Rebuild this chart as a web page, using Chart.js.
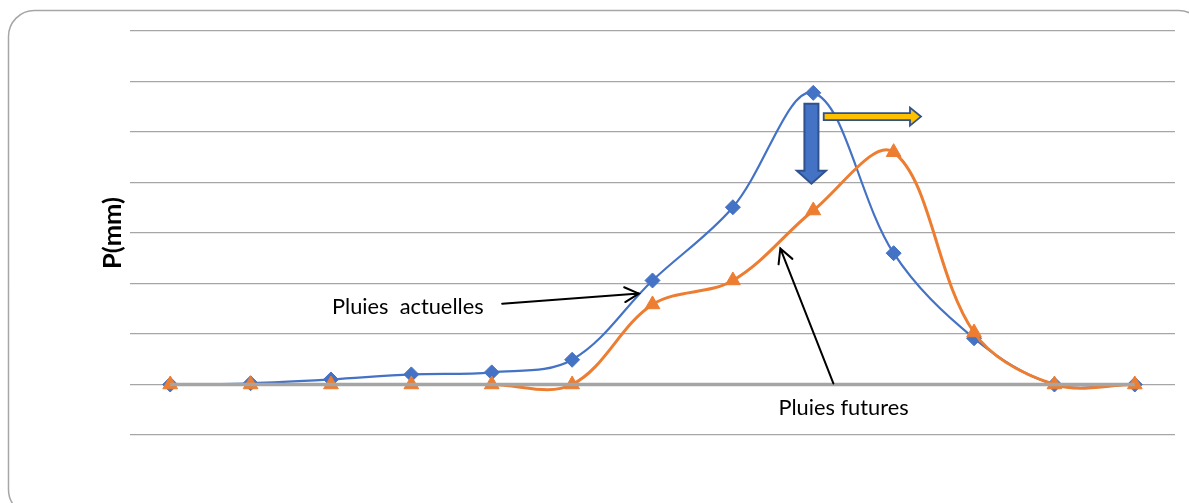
<!DOCTYPE html>
<html>
<head>
<meta charset="utf-8">
<script src="https://cdn.jsdelivr.net/npm/chart.js@4"></script>
<style>
  html, body { margin: 0; padding: 0; background: #ffffff; }
  #wrap { width: 1189px; height: 503px; }
</style>
</head>
<body>
<div id="wrap"><canvas id="c" width="1189" height="503"></canvas></div>
<script>
// Time steps along the horizontal axis (not labelled on the chart)
const categories = ['1', '2', '3', '4', '5', '6', '7', '8', '9', '10', '11', '12', '13'];

// Precipitation, mm
const pluiesActuelles = [0, 0.5, 2.0, 4.0, 4.8, 9.8, 41.2, 70.2, 115.5, 52.0, 18.3, 0, 0];
const pluiesFutures   = [0, 0, 0, 0, 0, 0, 31.7, 41.2, 68.9, 92.0, 20.6, 0, 0];
const baseline        = [0, 0, 0, 0, 0, 0, 0, 0, 0, 0, 0, 0, 0];

// Vertical scale
const yMin = -20;
const yMax = 140;
const yStep = 20;

const FONT = 'Lato, "Open Sans", "DejaVu Sans", sans-serif';

// Labels, pointers and shift arrows, placed in data units (category index, mm)
const decor = {
  labelActuelles: { text: 'Pluies  actuelles', x: 2.013, y: 30.9 },
  labelFutures:   { text: 'Pluies futures',    x: 7.566, y: -9.1 },
  pointerActuelles: { from: [4.13, 32.0], to: [5.83, 36.0] },
  pointerFutures:   { from: [8.25, 0.4],  to: [7.59, 53.9] },
  dropArrow:  { x: 7.977, top: 111.2, tip: 79.5 },
  shiftArrow: { from: 8.13, to: 9.34, y: 106.1 }
};

function openArrow(ctx, x1, y1, x2, y2) {
  const ang = Math.atan2(y2 - y1, x2 - x1);
  const len = 16, spread = Math.PI / 6.5;
  ctx.beginPath();
  ctx.moveTo(x1, y1);
  ctx.lineTo(x2, y2);
  ctx.moveTo(x2 - len * Math.cos(ang - spread), y2 - len * Math.sin(ang - spread));
  ctx.lineTo(x2, y2);
  ctx.lineTo(x2 - len * Math.cos(ang + spread), y2 - len * Math.sin(ang + spread));
  ctx.stroke();
}

const decorPlugin = {
  id: 'decor',
  afterDraw(chart) {
    const ctx = chart.ctx;
    const xs = chart.scales.x, ys = chart.scales.y;
    const X = v => xs.getPixelForValue(v);
    const Y = v => ys.getPixelForValue(v);
    ctx.save();

    // rounded frame around the chart
    ctx.strokeStyle = '#a6a6a6';
    ctx.lineWidth = 1.5;
    ctx.beginPath();
    ctx.roundRect(8.5, 10.5, 1196, 505, 26);
    ctx.stroke();

    // text labels
    ctx.fillStyle = '#000000';
    ctx.font = '21.8px ' + FONT;
    ctx.textBaseline = 'middle';
    ctx.textAlign = 'left';
    for (const l of [decor.labelActuelles, decor.labelFutures]) {
      ctx.fillText(l.text, X(l.x), Y(l.y));
    }

    // pointer arrows
    ctx.strokeStyle = '#000000';
    ctx.lineWidth = 2;
    ctx.lineCap = 'round';
    for (const p of [decor.pointerActuelles, decor.pointerFutures]) {
      openArrow(ctx, X(p.from[0]), Y(p.from[1]), X(p.to[0]), Y(p.to[1]));
    }

    // downward block arrow
    const d = decor.dropArrow;
    const cx = X(d.x), top = Y(d.top), tip = Y(d.tip);
    const headLen = 13, shaftW = 7, headW = 14.5;
    ctx.beginPath();
    ctx.moveTo(cx - shaftW, top);
    ctx.lineTo(cx + shaftW, top);
    ctx.lineTo(cx + shaftW, tip - headLen);
    ctx.lineTo(cx + headW, tip - headLen);
    ctx.lineTo(cx, tip);
    ctx.lineTo(cx - headW, tip - headLen);
    ctx.lineTo(cx - shaftW, tip - headLen);
    ctx.closePath();
    ctx.fillStyle = '#4472c4';
    ctx.fill();
    ctx.strokeStyle = '#2f528f';
    ctx.lineWidth = 2;
    ctx.lineJoin = 'miter';
    ctx.stroke();

    // rightward shift arrow
    const s = decor.shiftArrow;
    const x0 = X(s.from), x1 = X(s.to), cy = Y(s.y);
    const sh = 3.5, hh = 9, hl = 11;
    ctx.beginPath();
    ctx.moveTo(x0, cy - sh);
    ctx.lineTo(x1 - hl, cy - sh);
    ctx.lineTo(x1 - hl, cy - hh);
    ctx.lineTo(x1, cy);
    ctx.lineTo(x1 - hl, cy + hh);
    ctx.lineTo(x1 - hl, cy + sh);
    ctx.lineTo(x0, cy + sh);
    ctx.closePath();
    ctx.fillStyle = '#ffc000';
    ctx.fill();
    ctx.strokeStyle = '#2f528f';
    ctx.lineWidth = 1.8;
    ctx.stroke();

    ctx.restore();
  }
};

new Chart(document.getElementById('c'), {
  type: 'line',
  data: {
    labels: categories,
    datasets: [
      {
        label: 'Base',
        data: baseline,
        borderColor: '#a5a5a5',
        borderWidth: 3.5,
        pointRadius: 0,
        tension: 0,
        order: 0
      },
      {
        label: 'Pluies futures',
        data: pluiesFutures,
        borderColor: '#ed7d31',
        backgroundColor: '#ed7d31',
        borderWidth: 3,
        pointStyle: 'triangle',
        pointRadius: 8.5,
        pointBorderWidth: 1,
        tension: 0.35,
        order: 1
      },
      {
        label: 'Pluies actuelles',
        data: pluiesActuelles,
        borderColor: '#4472c4',
        backgroundColor: '#4472c4',
        borderWidth: 2.2,
        pointStyle: 'rectRot',
        pointRadius: 7.5,
        pointBorderWidth: 1,
        tension: 0.35,
        order: 2
      }
    ]
  },
  options: {
    responsive: false,
    devicePixelRatio: 1,
    animation: false,
    clip: false,
    layout: { padding: { left: 0, right: 14, top: 31, bottom: 68 } },
    plugins: {
      legend: { display: false },
      tooltip: { enabled: false }
    },
    scales: {
      x: {
        type: 'category',
        display: false,
        offset: true
      },
      y: {
        min: yMin,
        max: yMax,
        ticks: { display: false, stepSize: yStep },
        grid: { color: '#a6a6a6', lineWidth: 1.2, drawTicks: false },
        border: { display: false },
        title: {
          display: true,
          text: 'P(mm)',
          color: '#000000',
          font: { family: FONT, size: 25.5, weight: 'bold' },
          padding: { top: 97, bottom: 0 }
        },
        afterFit(scale) { scale.width = 130; }
      }
    }
  },
  plugins: [decorPlugin]
});
</script>
</body>
</html>
